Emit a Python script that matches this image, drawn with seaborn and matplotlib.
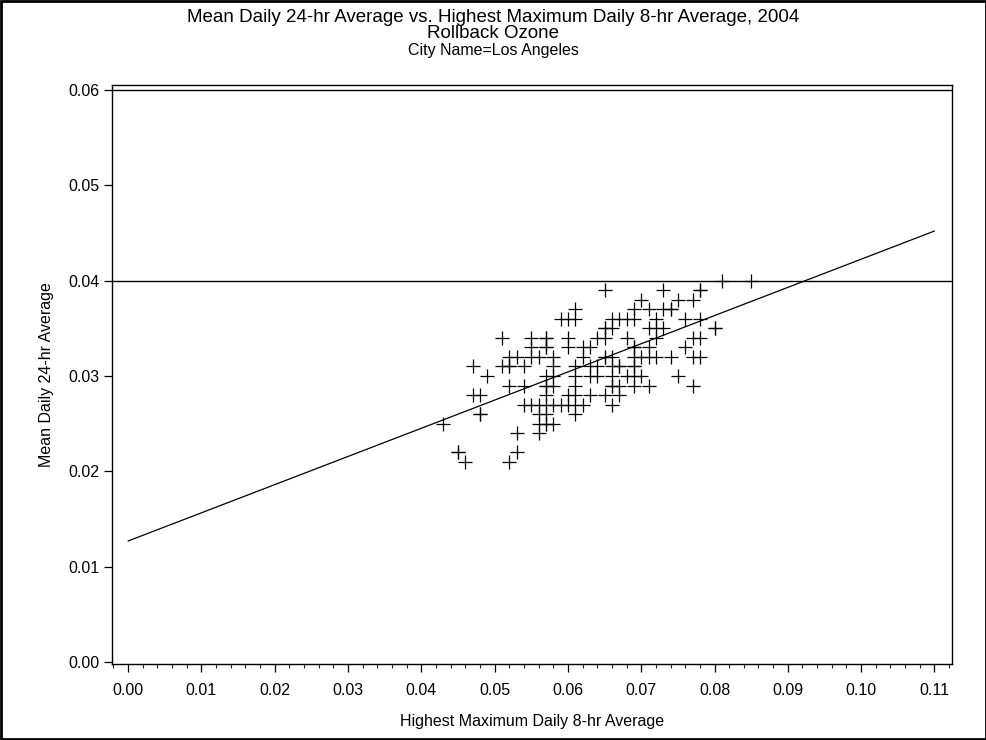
import numpy as np
import pandas as pd
import matplotlib
matplotlib.use("Agg")
import matplotlib.pyplot as plt
from matplotlib.ticker import MultipleLocator, FormatStrFormatter
from matplotlib.patches import Rectangle
import seaborn as sns

# ---- data (y value -> list of x values) ----
rows_y = [0.040, 0.039, 0.038, 0.037, 0.036, 0.035, 0.034, 0.033, 0.032,
          0.031, 0.030, 0.029, 0.028, 0.027, 0.026, 0.025, 0.024, 0.022, 0.021]
x_040 = [0.081, 0.085]
x_039 = [0.065, 0.073, 0.078, 0.078]
x_038 = [0.070, 0.075, 0.077]
x_037 = [0.061, 0.069, 0.071, 0.073, 0.074, 0.074]
x_036 = [0.059, 0.060, 0.061, 0.066, 0.067, 0.068, 0.069, 0.072, 0.076, 0.078]
x_035 = [0.065, 0.065, 0.066, 0.071, 0.072, 0.073, 0.080, 0.080]
x_034 = [0.051, 0.055, 0.057, 0.057, 0.060, 0.064, 0.065, 0.068, 0.072, 0.077, 0.078]
x_033 = [0.055, 0.057, 0.057, 0.060, 0.062, 0.063, 0.069, 0.069, 0.071, 0.076]
x_032 = [0.052, 0.053, 0.055, 0.056, 0.058, 0.062, 0.065, 0.065, 0.066, 0.069,
         0.070, 0.071, 0.072, 0.074, 0.077, 0.078]
x_031 = [0.047, 0.051, 0.052, 0.052, 0.054, 0.058, 0.061, 0.063, 0.064, 0.066,
         0.067, 0.067, 0.069, 0.069]
x_030 = [0.049, 0.057, 0.058, 0.061, 0.063, 0.064, 0.066, 0.068, 0.069, 0.070, 0.075]
x_029 = [0.052, 0.054, 0.057, 0.057, 0.058, 0.061, 0.066, 0.066, 0.067, 0.069, 0.071, 0.077]
x_028 = [0.047, 0.048, 0.057, 0.060, 0.061, 0.063, 0.065, 0.067]
x_027 = [0.054, 0.055, 0.056, 0.057, 0.058, 0.059, 0.060, 0.061, 0.062, 0.066]
x_026 = [0.048, 0.048, 0.056, 0.057, 0.061]
x_025 = [0.043, 0.056, 0.057, 0.057, 0.058]
x_024 = [0.053, 0.056]
x_022 = [0.045, 0.045, 0.053]
x_021 = [0.046, 0.052]
rows_x = [x_040, x_039, x_038, x_037, x_036, x_035, x_034, x_033, x_032,
          x_031, x_030, x_029, x_028, x_027, x_026, x_025, x_024, x_022, x_021]

# regression line
reg_intercept = 0.0127
reg_slope = 0.2955
reg_x = [0.0, 0.11]

# reference lines
ref_lines = [0.04, 0.06]

title_lines = ["Mean Daily 24-hr Average vs. Highest Maximum Daily 8-hr Average, 2004",
               "Rollback Ozone"]
subtitle = "City Name=Los Angeles"
xlabel = "Highest Maximum Daily 8-hr Average"
ylabel = "Mean Daily 24-hr Average"

xs, ys = [], []
for yv, xl in zip(rows_y, rows_x):
    for xv in xl:
        xs.append(xv)
        ys.append(yv)
df = pd.DataFrame({"x": xs, "y": ys})

sns.set_style("white")
plt.rcParams["font.family"] = ["Liberation Sans", "DejaVu Sans"]
plt.rcParams["text.color"] = "black"
plt.rcParams["axes.labelcolor"] = "black"

fig = plt.figure(figsize=(9.87, 7.40), dpi=100)
ax = fig.add_axes([112 / 987, 1 - 664 / 740, (952 - 112) / 987, (664 - 85) / 740])

sns.scatterplot(data=df, x="x", y="y", marker="+", s=110, color="black",
                linewidth=0.9, ax=ax, legend=False)

line_y = [reg_intercept + reg_slope * v for v in reg_x]
sns.lineplot(x=reg_x, y=line_y, color="black", linewidth=0.9, ax=ax)

for r in ref_lines:
    ax.axhline(r, color="black", linewidth=1.0)

ax.set_xlim(-0.0022, 0.1124)
ax.set_ylim(-0.0002, 0.06052)
ax.xaxis.set_major_locator(MultipleLocator(0.01))
ax.xaxis.set_minor_locator(MultipleLocator(0.002))
ax.yaxis.set_major_locator(MultipleLocator(0.01))
ax.xaxis.set_major_formatter(FormatStrFormatter("%.2f"))
ax.yaxis.set_major_formatter(FormatStrFormatter("%.2f"))
ax.tick_params(axis="both", which="major", direction="out", length=6, width=0.9,
               labelsize=11.5, colors="black", bottom=True, left=True)
ax.tick_params(axis="x", which="minor", direction="out", length=3, width=0.8,
               bottom=True)
ax.tick_params(axis="x", pad=8)
ax.tick_params(axis="y", pad=3)
for sp in ax.spines.values():
    sp.set_visible(True)
    sp.set_color("black")
    sp.set_linewidth(1.0)

ax.set_xlabel(xlabel, fontsize=11.5, labelpad=11)
ax.set_ylabel(ylabel, fontsize=11.5, labelpad=10)

fig.text(0.5, 1 - 17 / 740, title_lines[0], ha="center", va="center", fontsize=13.5)
fig.text(0.5, 1 - 33 / 740, title_lines[1], ha="center", va="center", fontsize=13.5)
fig.text(0.5, 1 - 50 / 740, subtitle, ha="center", va="center", fontsize=11.5)

fig.patches.append(Rectangle((0.001, 0.001), 0.998, 0.998, transform=fig.transFigure,
                             fill=False, edgecolor="black", linewidth=2))

fig.savefig("out.png", dpi=100)
